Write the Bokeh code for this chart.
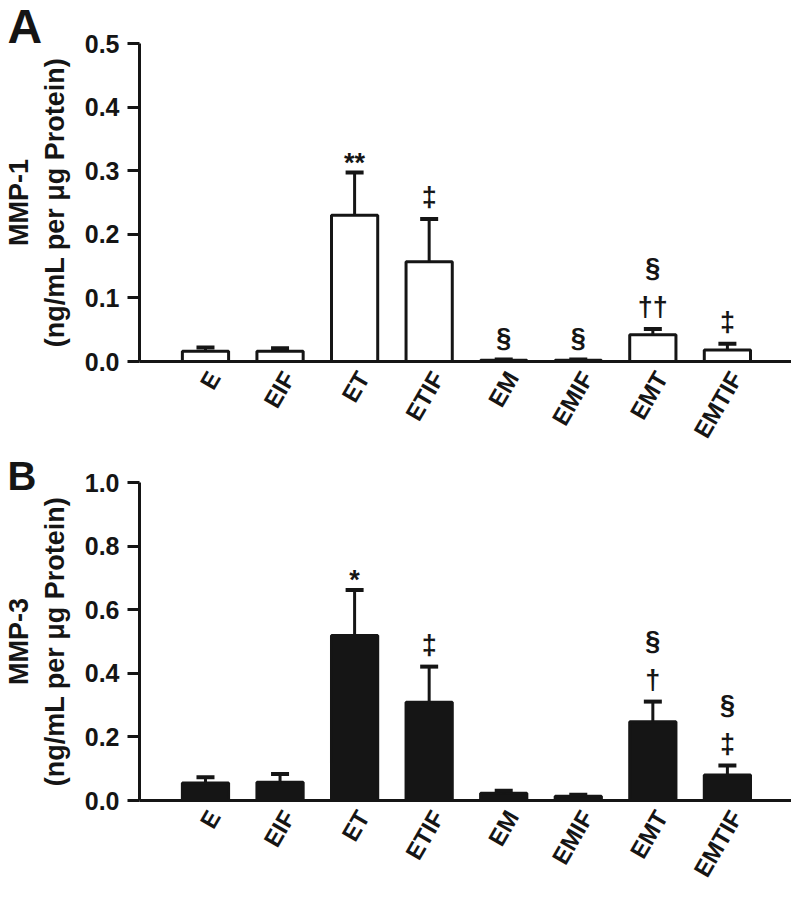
from bokeh.plotting import figure
from bokeh.models import (Range1d, FixedTicker, NumeralTickFormatter, Whisker,
                          TeeHead, ColumnDataSource, Title)
from bokeh.layouts import column
from bokeh.embed import file_html
from bokeh.resources import INLINE
from bokeh.core.properties import value

# ---------------- data ----------------
groups = ["E", "EIF", "ET", "ETIF", "EM", "EMIF", "EMT", "EMTIF"]

mmp1_mean = [0.016, 0.016, 0.230, 0.157, 0.002, 0.002, 0.042, 0.018]
mmp1_sem = [0.006, 0.005, 0.067, 0.067, 0.001, 0.001, 0.009, 0.010]
mmp1_sig_low = ["", "", "**", "\u2021", "\u00a7", "\u00a7", "\u2020\u2020", "\u2021"]
mmp1_sig_high = ["", "", "", "", "", "", "\u00a7", ""]
mmp1_ticks = [0.0, 0.1, 0.2, 0.3, 0.4, 0.5]

mmp3_mean = [0.055, 0.057, 0.519, 0.309, 0.023, 0.013, 0.248, 0.080]
mmp3_sem = [0.018, 0.026, 0.143, 0.112, 0.008, 0.005, 0.063, 0.030]
mmp3_sig_low = ["", "", "*", "\u2021", "", "", "\u2020", "\u2021"]
mmp3_sig_high = ["", "", "", "", "", "", "\u00a7", "\u00a7"]
mmp3_ticks = [0.0, 0.2, 0.4, 0.6, 0.8, 1.0]

FONT = "Liberation Sans"
INK = "#151515"
LABEL_SHIFT = 0.115  # category labels sit slightly right of bar centre


def make_panel(letter, letter_size, letter_standoff, means, sems, sig_low,
               sig_high, ticks, ylabel, fill, top_border, frame_h, bottom_border):
    x = list(range(len(groups)))
    p = figure(frame_width=655, frame_height=frame_h,
               x_range=Range1d(-0.885, 7.9),
               y_range=Range1d(ticks[0], ticks[-1]),
               output_backend="svg", toolbar_location=None,
               min_border_left=136, min_border_top=top_border,
               min_border_right=0, min_border_bottom=bottom_border)
    p.outline_line_color = None
    p.xgrid.visible = False
    p.ygrid.visible = False

    # panel letter, placed in the space left of the plot area
    p.add_layout(Title(text=letter, align="left", offset=-132,
                       standoff=letter_standoff, vertical_align="bottom",
                       text_font=FONT, text_font_style="bold",
                       text_font_size=letter_size, text_color=INK), "above")

    src = ColumnDataSource(dict(x=x, top=means,
                                upper=[m + s for m, s in zip(means, sems)]))
    p.add_layout(Whisker(source=src, base="x", lower="top", upper="upper",
                         dimension="height", line_width=3, line_color=INK,
                         upper_head=TeeHead(size=18, line_width=4, line_color=INK),
                         lower_head=None, level="glyph"))
    p.vbar(x="x", top="top", bottom=0, width=0.62, source=src,
           fill_color=fill, line_color=INK, line_width=3)

    # significance marks
    upper = src.data["upper"]
    star = [i for i in x if sig_low[i].startswith("*")]
    other = [i for i in x if sig_low[i] and not sig_low[i].startswith("*")]
    for idxs, off in ((star, -10), (other, -22)):
        if idxs:
            p.text(x=[x[i] for i in idxs], y=[upper[i] for i in idxs],
                   text=[sig_low[i] for i in idxs], y_offset=off,
                   text_align="center", text_baseline="middle",
                   text_font=value(FONT), text_font_style="bold",
                   text_font_size="27px", text_color=INK)
    hi = [i for i in x if sig_high[i]]
    if hi:
        p.text(x=[x[i] for i in hi], y=[upper[i] for i in hi],
               text=[sig_high[i] for i in hi], y_offset=-61,
               text_align="center", text_baseline="middle",
               text_font=value(FONT), text_font_style="bold",
               text_font_size="27px", text_color=INK)

    # y axis
    ya = p.yaxis[0]
    ya.ticker = FixedTicker(ticks=ticks)
    ya.formatter = NumeralTickFormatter(format="0.0")
    ya.axis_line_width = 3
    ya.axis_line_color = INK
    ya.major_tick_line_width = 3
    ya.major_tick_line_color = INK
    ya.major_tick_out = 12
    ya.major_tick_in = 0
    ya.minor_tick_line_color = None
    ya.major_label_text_font = FONT
    ya.major_label_text_font_style = "bold"
    ya.major_label_text_font_size = "25px"
    ya.major_label_text_color = INK
    ya.major_label_standoff = 8
    ya.axis_label = ylabel
    ya.axis_label_text_font = FONT
    ya.axis_label_text_font_style = "bold"
    ya.axis_label_text_font_size = "27px"
    ya.axis_label_text_color = INK
    ya.axis_label_standoff = 12

    # x axis
    xa = p.xaxis[0]
    label_pos = [i + LABEL_SHIFT for i in x]
    xa.ticker = FixedTicker(ticks=label_pos)
    xa.major_label_overrides = {lp: g for lp, g in zip(label_pos, groups)}
    xa.axis_line_width = 3
    xa.axis_line_color = INK
    xa.major_tick_line_color = None
    xa.major_tick_out = 0
    xa.major_tick_in = 0
    xa.minor_tick_line_color = None
    xa.major_label_orientation = 1.047
    xa.major_label_text_font = FONT
    xa.major_label_text_font_style = "bold"
    xa.major_label_text_font_size = "24px"
    xa.major_label_text_color = INK
    xa.major_label_standoff = 12
    return p


pA = make_panel("A", "48px", -18, mmp1_mean, mmp1_sem, mmp1_sig_low,
                mmp1_sig_high, mmp1_ticks,
                "MMP-1\n(ng/mL per \u03bcg Protein)", "white", 43, 318, 91)
pB = make_panel("B", "40px", -30, mmp3_mean, mmp3_sem, mmp3_sig_low,
                mmp3_sig_high, mmp3_ticks,
                "MMP-3\n(ng/mL per \u03bcg Protein)", INK, 30, 318, 91)

layout = column(pA, pB, spacing=0)
open("out.html", "w").write(file_html(layout, INLINE))
